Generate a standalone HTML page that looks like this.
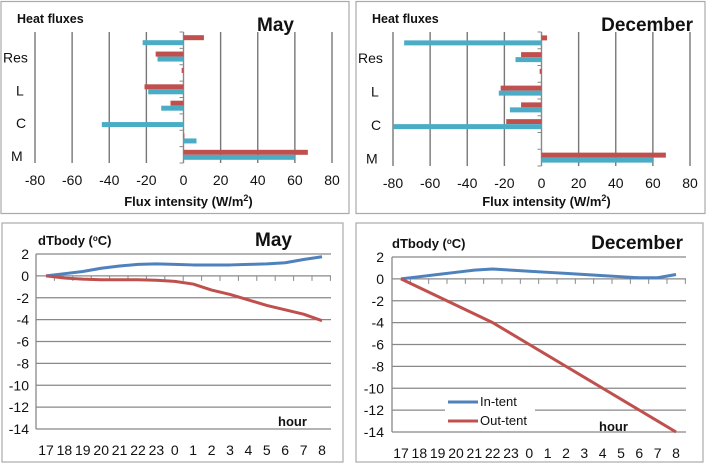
<!DOCTYPE html>
<html><head><meta charset="utf-8"><style>
body{margin:0;background:#fff;}
svg{display:block;font-family:"Liberation Sans",sans-serif;}
</style></head><body>
<svg id="s" width="708" height="465" viewBox="0 0 708 465" xmlns="http://www.w3.org/2000/svg"></svg>
<script>
// Bar charts data (categories bottom to top)
const barCats = ["M","","C","","L","","Res",""];
const mayRed = [67,0.5,0,-7,-21,-1,-15,11];
const mayBlue = [60,7,-44,-12,-19,0,-14,-22];
const decRed = [67,0,-19,-11,-22,-1,-11,3];
const decBlue = [60,0,-80,-17,-23,0,-14,-74];
const fluxTicks = [-80,-60,-40,-20,0,20,40,60,80];
// Line charts data
const hours = ["17","18","19","20","21","22","23","0","1","2","3","4","5","6","7","8"];
const mayIn = [0,0.2,0.4,0.7,0.9,1.05,1.1,1.05,1.0,1.0,1.0,1.05,1.1,1.2,1.5,1.75];
const mayOut = [0,-0.2,-0.3,-0.35,-0.35,-0.35,-0.4,-0.5,-0.75,-1.3,-1.7,-2.2,-2.7,-3.1,-3.5,-4.1];
const decIn = [0,0.2,0.4,0.6,0.8,0.9,0.8,0.7,0.6,0.5,0.4,0.3,0.2,0.1,0.1,0.4];
const decOut = [0,-0.8,-1.6,-2.4,-3.2,-4,-5,-6,-7,-8,-9,-10,-11,-12,-13,-14];
const tTicks = [2,0,-2,-4,-6,-8,-10,-12,-14];

const NS="http://www.w3.org/2000/svg";
const svg=document.getElementById('s');
function mk(tag,attrs,parent,text){const e=document.createElementNS(NS,tag);for(const k in attrs)e.setAttribute(k,attrs[k]);if(text!==undefined)e.textContent=text;(parent||svg).appendChild(e);return e;}

function barPanel(px,pw,x0,x1,yTop,yBot,red,blue,title,titleX,gname){
  const g=mk('g',{});
  
  
  const b=mk('rect',{x:px,y:1.5,width:pw,height:212,fill:'#fff',stroke:'#aaa','stroke-width':1.2},g);
  
  const sx=v=>x0+(v+80)/160*(x1-x0);
  fluxTicks.forEach(t=>{
    const l=mk('line',{x1:sx(t),x2:sx(t),y1:yTop,y2:yBot,stroke:t===0?'#888':'#777','stroke-width':1.4},g);
    
    const tx=mk('text',{x:sx(t),y:yBot+22,'font-size':14,'text-anchor':'middle',fill:'#111'},g,String(t));
    
  });
  const n=barCats.length,ch=(yBot-yTop)/n;
  for(let i=0;i<=n;i++){const y=yBot-i*ch;mk('line',{x1:sx(0)-4,x2:sx(0),y1:y,y2:y,stroke:'#888'},g);}
  barCats.forEach((c,i)=>{
    const cy=yBot-(i+0.5)*ch;
    const r=mk('rect',{x:Math.min(sx(0),sx(red[i])),y:cy-5,width:Math.abs(sx(red[i])-sx(0)),height:5,fill:'#c0504d'},g);
    
    const bl=mk('rect',{x:Math.min(sx(0),sx(blue[i])),y:cy,width:Math.abs(sx(blue[i])-sx(0)),height:5,fill:'#4bacc6'},g);
    
    if(c){const t=mk('text',{x:px+(c==='Res'?2:(c==='M'?10:15)),y:cy+6,'font-size':14,fill:'#111'},g,c);
      }
  });
  const ht=mk('text',{x:px+16,y:23,'font-size':12.5,'font-weight':'bold',fill:'#111'},g,'Heat fluxes');
  
  const tt=mk('text',{x:titleX,y:31,'font-size':19,'font-weight':'bold','text-anchor':'end',fill:'#111'},g,title);
  
  const at=mk('text',{x:(x0+x1)/2+5,y:206,'font-size':13,'font-weight':'bold','text-anchor':'middle',fill:'#111'},g);
  
  at.innerHTML='Flux intensity (W/m<tspan font-size="9" dy="-5">2</tspan><tspan dy="5">)</tspan>';
}

function linePanel(px,pw,axL,axR,c0,c15,y2,y14,inD,outD,title,titleX,hourX,hourY,labX,legend,gname){
  const g=mk('g',{});
  
  const b=mk('rect',{x:px,y:223,width:pw,height:239,fill:'#fff',stroke:'#aaa','stroke-width':1.2},g);
  
  const sy=v=>y2+(2-v)/16*(y14-y2);
  const sx=i=>c0+i*(c15-c0)/15;
  const step=(c15-c0)/15;
  tTicks.forEach(t=>{
    if(t!==0){const l=mk('line',{x1:axL,x2:axR,y1:sy(t),y2:sy(t),stroke:'#888','stroke-width':1.3},g);
      }
    const tx=mk('text',{x:labX,y:sy(t)+5,'font-size':14,'text-anchor':'end',fill:'#111'},g,String(t));
    
  });
  mk('line',{x1:axL,x2:axL,y1:y2,y2:y14,stroke:'#888','stroke-width':1.3},g);
  mk('line',{x1:axL,x2:axR,y1:sy(0),y2:sy(0),stroke:'#888','stroke-width':1.3},g);
  for(let i=0;i<=16;i++){const x=axL+i*step;mk('line',{x1:x,x2:x,y1:sy(0),y2:sy(0)+5,stroke:'#888'},g);}
  hours.forEach((h,i)=>{const t=mk('text',{x:sx(i),y:y14+26,'font-size':14,'text-anchor':'middle',fill:'#111'},g,h);
    });
  const pin=mk('polyline',{points:inD.map((v,i)=>sx(i)+','+sy(v)).join(' '),fill:'none',stroke:'#4f81bd','stroke-width':3,'stroke-linejoin':'round'},g);
  
  const pout=mk('polyline',{points:outD.map((v,i)=>sx(i)+','+sy(v)).join(' '),fill:'none',stroke:'#c0504d','stroke-width':3,'stroke-linejoin':'round'},g);
  
  const yt=mk('text',{x:px+36,y:y2-9,'font-size':13,'font-weight':'bold',fill:'#111'},g);
  
  yt.innerHTML='dTbody (<tspan font-size="8" dy="-4">o</tspan><tspan dy="4">C)</tspan>';
  const tt=mk('text',{x:titleX,y:y2-8,'font-size':19,'font-weight':'bold','text-anchor':'end',fill:'#111'},g,title);
  
  const hr=mk('text',{x:hourX,y:hourY,'font-size':13,'font-weight':'bold',fill:'#111'},g,'hour');
  
  if(legend){
    const lg=mk('g',{},g);
    mk('rect',{x:445,y:393,width:90,height:38,fill:'#fff'},lg);
    const e1=mk('g',{},lg);
    mk('line',{x1:448,x2:478,y1:402,y2:402,stroke:'#4f81bd','stroke-width':3},e1);
    mk('text',{x:480,y:406,'font-size':13,fill:'#111'},e1,'In-tent');
    const e2=mk('g',{},lg);
    mk('line',{x1:448,x2:478,y1:421,y2:421,stroke:'#c0504d','stroke-width':3},e2);
    mk('text',{x:480,y:425,'font-size':13,fill:'#111'},e2,'Out-tent');
  }
}

barPanel(1,348,35,332,32,163,mayRed,mayBlue,'May',294,'may-flux-chart');
barPanel(356,349,393,690,32,166,decRed,decBlue,'December',693,'december-flux-chart');
linePanel(2,341,36,331,46,322,254,429,mayIn,mayOut,'May',292,278,426,29,false,'may-temperature-chart');
linePanel(356,347,392,686,401,676,257,432,decIn,decOut,'December',683,599,431,384,true,'december-temperature-chart');
</script>
</body></html>
